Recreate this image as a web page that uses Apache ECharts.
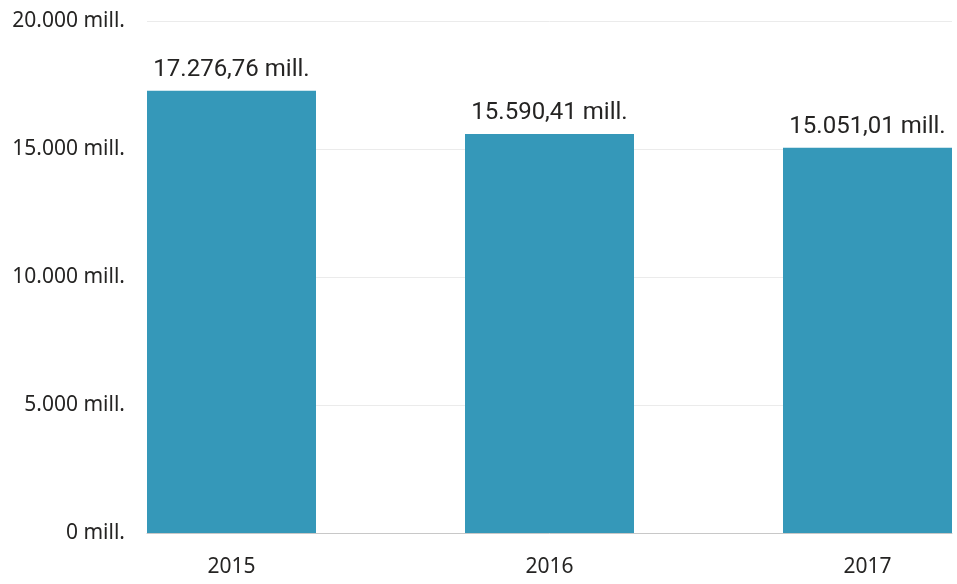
<!DOCTYPE html>
<html>
<head>
<meta charset="utf-8">
<script src="https://cdn.jsdelivr.net/npm/echarts@6/dist/echarts.min.js"></script>
<style>
  html, body { margin: 0; padding: 0; background: #ffffff; }
  #chart { width: 957px; height: 584px; }
</style>
</head>
<body>
<div id="chart"></div>
<script>
// Yearly totals, in millions
const years = ['2015', '2016', '2017'];
const totals = [17276.76, 15590.41, 15051.01];
const yTicks = [0, 5000, 10000, 15000, 20000];

const fmtInt = v => String(Math.round(v)).replace(/\B(?=(\d{3})+(?!\d))/g, '.') + ' mill.';
const fmtDec = v => {
  const [i, d] = v.toFixed(2).split('.');
  return i.replace(/\B(?=(\d{3})+(?!\d))/g, '.') + ',' + d + ' mill.';
};

const textColor = '#252423';
const yMin = yTicks[0], yMax = yTicks[yTicks.length - 1];
const yStep = yTicks[1] - yTicks[0];

const chart = echarts.init(document.getElementById('chart'), null, { renderer: 'canvas' });
chart.setOption({
  animation: false,
  grid: [
    // frame grid: value axis labels, gridlines and baseline
    { left: 147, right: 5, top: 21, bottom: 51 },
    // bar grid: category centres spread across the plot
    { left: 231.5, right: 89.5, top: 21, bottom: 51 }
  ],
  xAxis: [
    {
      gridIndex: 0, type: 'category', data: years,
      axisLine: { lineStyle: { color: '#c8c8c8', width: 1 } },
      axisTick: { show: false }, axisLabel: { show: false }
    },
    {
      gridIndex: 1, type: 'category', data: years, boundaryGap: false,
      axisLine: { show: false }, axisTick: { show: false },
      axisLabel: { color: textColor, fontFamily: 'Noto Sans', fontSize: 21, margin: 24 }
    }
  ],
  yAxis: [
    {
      gridIndex: 0, type: 'value', min: yMin, max: yMax, interval: yStep,
      axisLine: { show: false }, axisTick: { show: false },
      axisLabel: { color: textColor, fontFamily: 'Noto Sans', fontSize: 21, margin: 22, formatter: fmtInt },
      splitLine: { lineStyle: { color: '#ebebeb', width: 1 } }
    },
    {
      gridIndex: 1, type: 'value', min: yMin, max: yMax, interval: yStep,
      show: false, splitLine: { show: false }
    }
  ],
  series: [{
    type: 'bar',
    xAxisIndex: 1, yAxisIndex: 1,
    data: totals,
    barWidth: 169,
    itemStyle: { color: '#3598b9' },
    label: {
      show: true, position: 'top', distance: 9,
      color: textColor, fontFamily: 'Roboto', fontSize: 24,
      formatter: p => fmtDec(p.value)
    }
  }]
});
</script>
</body>
</html>
